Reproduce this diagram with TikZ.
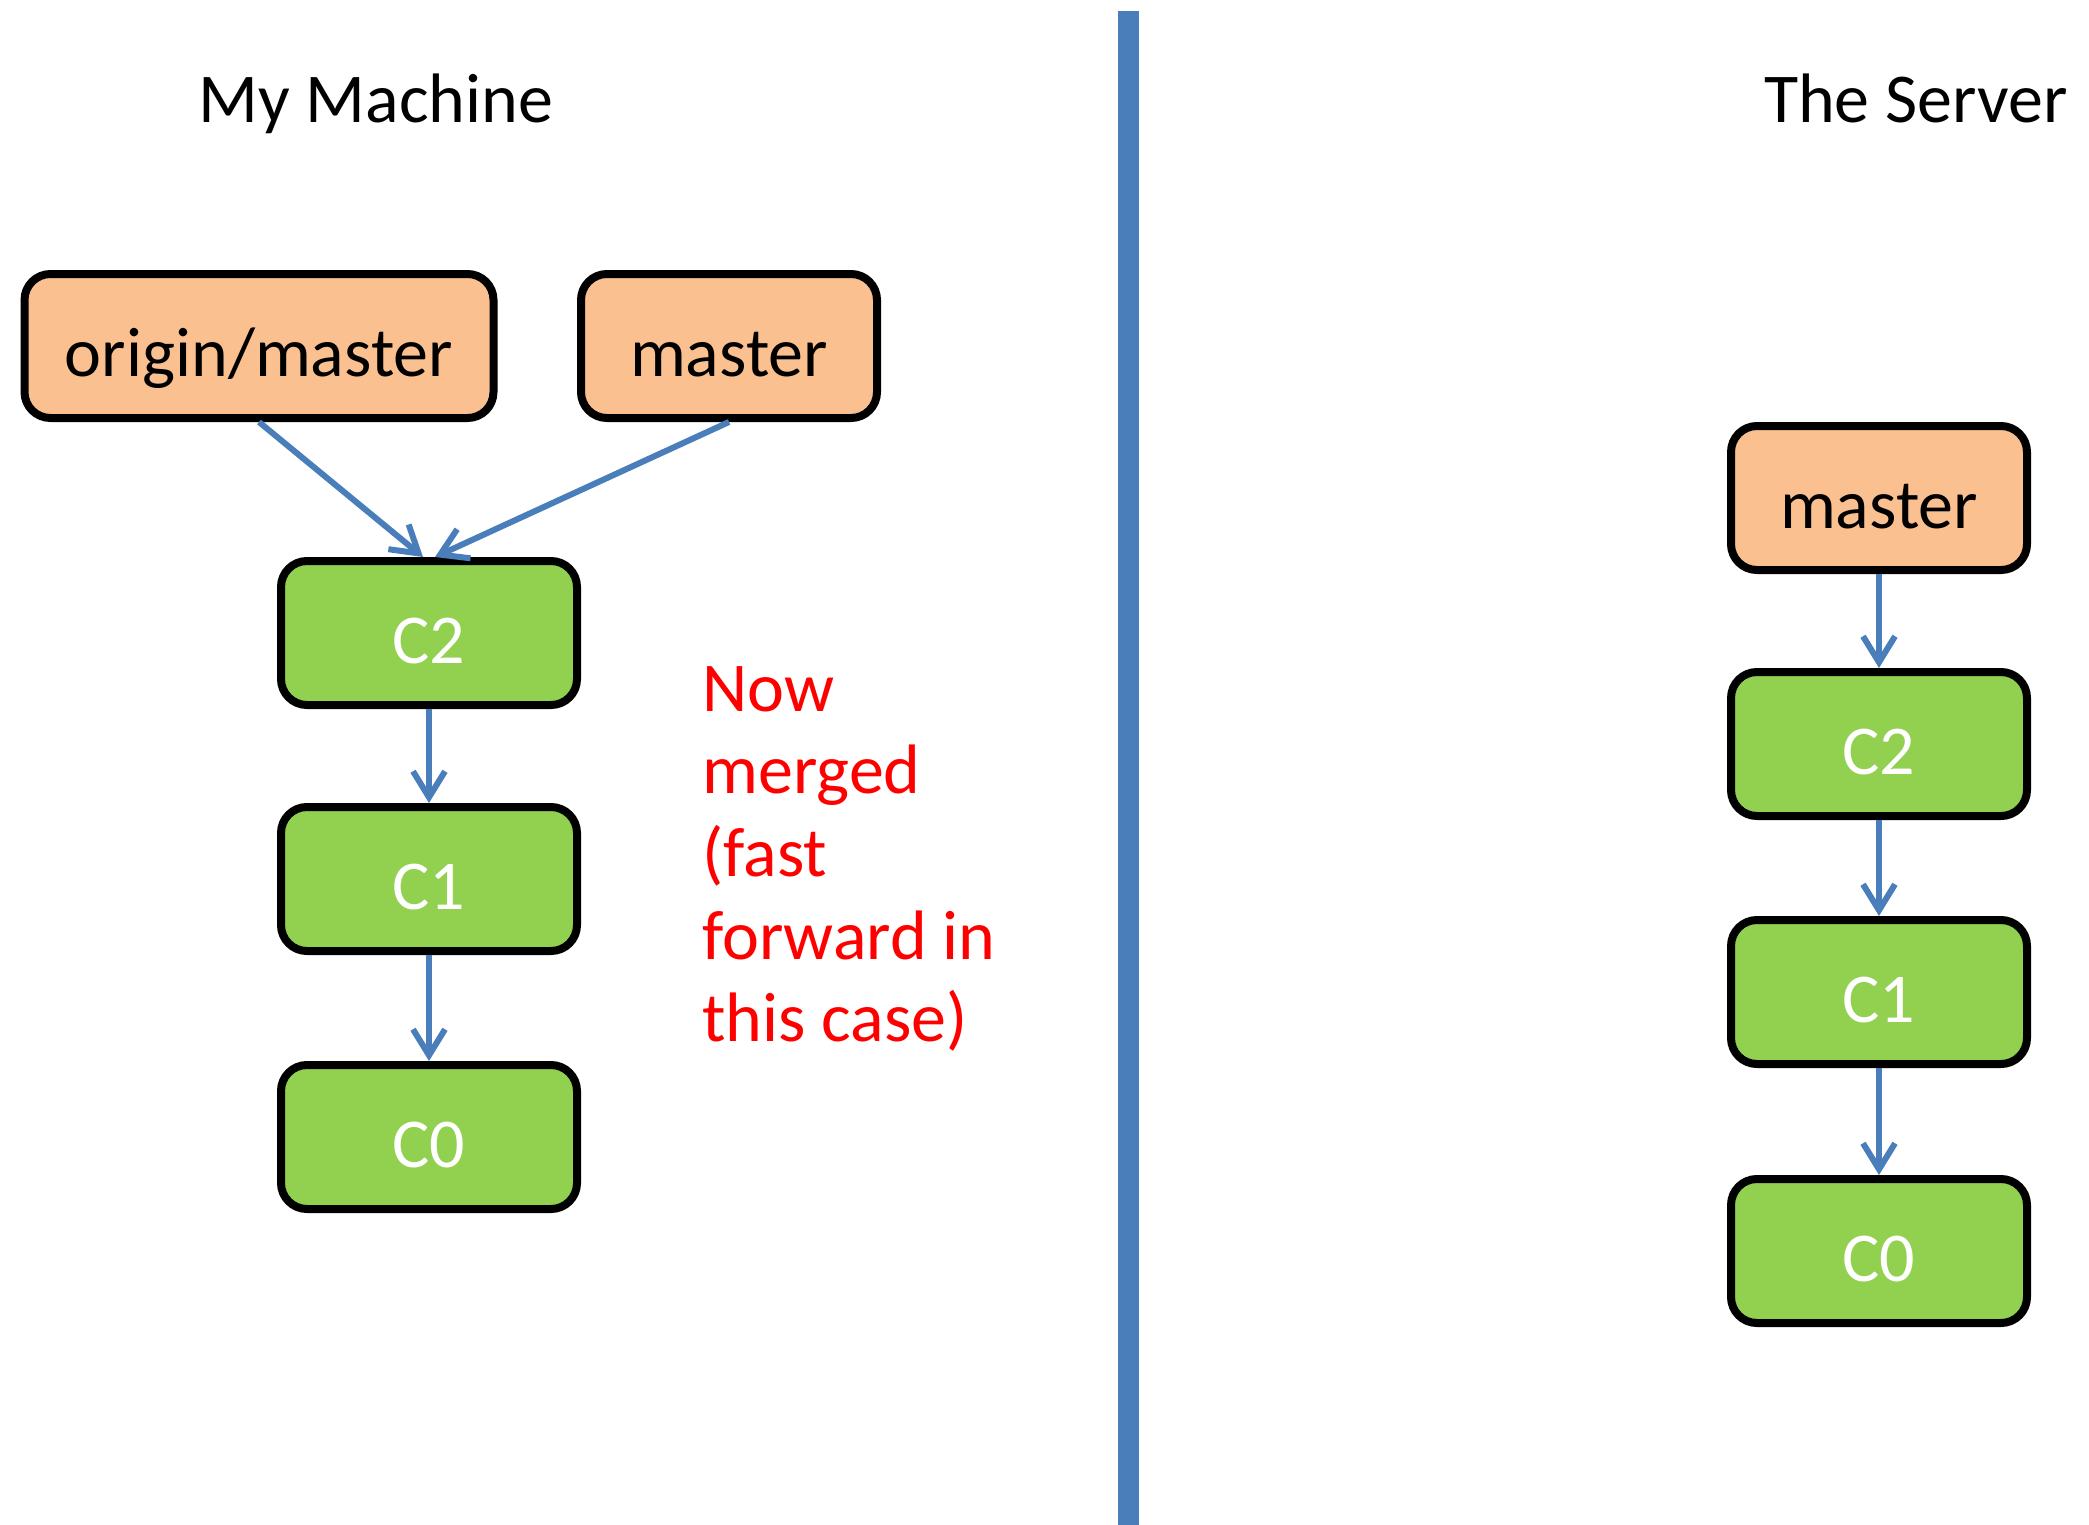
\documentclass[tikz,border=0pt]{standalone}
\usepackage{fontspec}
\setmainfont{Carlito}
\usetikzlibrary{arrows.meta}
\definecolor{branchfill}{HTML}{FAC090}
\definecolor{commitfill}{HTML}{92D050}
\definecolor{linkblue}{HTML}{4A7EBB}
\tikzset{
  branch/.style={draw=black, line width=4pt, rounded corners=13pt, fill=branchfill,
    minimum width=148pt, minimum height=72pt, text height=35pt, text depth=5pt},
  commit/.style={branch, fill=commitfill, text=white},
  link/.style={draw=linkblue, line width=3pt, -{Straight Barb[length=13pt,width=16pt]}}
}
\begin{document}
\begin{tikzpicture}[x=0.5pt,y=-0.5pt,font=\fontsize{35}{42}\selectfont]
            \useasboundingbox (0,0) rectangle (2089,1525);
            \draw[linkblue, line width=10.5pt] (1128,11) -- (1128,1525);
            \node[anchor=base] (mine) at (376,123) {My Machine};
            \node[anchor=base] (server) at (1916,123) {The Server};
            % my machine
            \node[branch, minimum width=234.5pt] (origin) at (259,346) {origin/master};
            \node[branch] (master) at (729,346) {master};
            \node[commit] (c2) at (429,633) {C2};
            \node[commit] (c1) at (429,879) {C1};
            \node[commit] (c0) at (429,1137) {C0};
            \node[red, anchor=north west, inner sep=0pt, align=left,
                  font=\fontsize{35}{41.3}\selectfont] (note) at (702,666)
                  {Now\\merged\\(fast\\forward in\\this case)};
            \draw[link] (origin.south) -- ([xshift=-3pt]c2.north);
            \draw[link] (master.south) -- ([xshift=3pt]c2.north);
            \draw[link] (c2) -- (c1);
            \draw[link] (c1) -- (c0);
            % the server
            \node[branch] (smaster) at (1879,498) {master};
            \node[commit] (sc2) at (1879,744) {C2};
            \node[commit] (sc1) at (1879,992) {C1};
            \node[commit] (sc0) at (1879,1251) {C0};
            \draw[link] (smaster) -- (sc2);
            \draw[link] (sc2) -- (sc1);
            \draw[link] (sc1) -- (sc0);
        \end{tikzpicture}
\end{document}
